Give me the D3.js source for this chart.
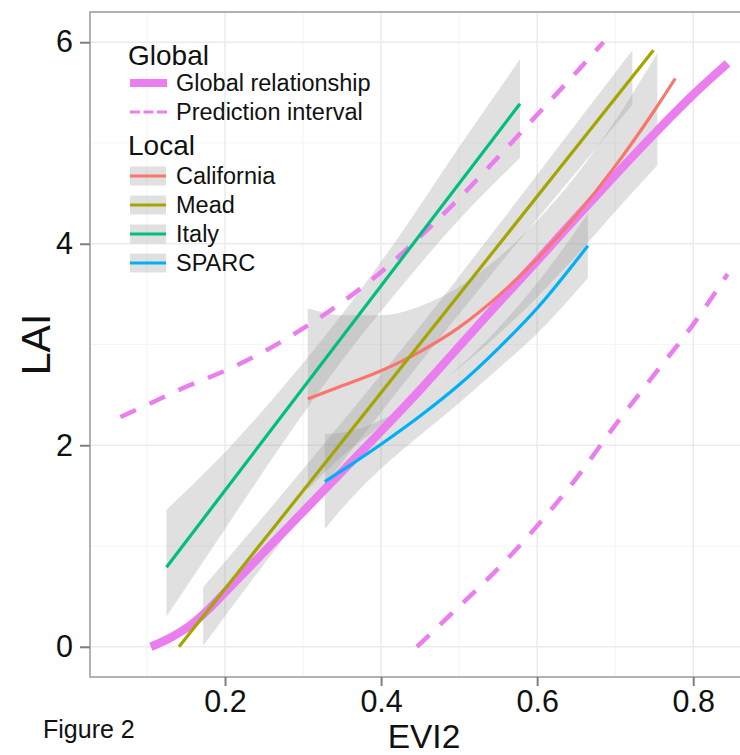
<!DOCTYPE html>
<html>
<head>
<meta charset="utf-8">
<script src="https://cdn.jsdelivr.net/npm/d3@7"></script>
<style>
body { margin: 0; background: #fff; }
svg text { font-family: "Liberation Sans", Arial, sans-serif; fill: #111; }
</style>
</head>
<body>
<svg id="chart" width="740" height="755"></svg>
<script>
// ticks
let xTicks = [0.2, 0.4, 0.6, 0.8];
let xMinor = [0.1, 0.3, 0.5, 0.7];
let yTicks = [0, 2, 4, 6];
let yMinor = [1, 3, 5];

// global fit and its prediction interval
let globalEvi = [0.105, 0.13, 0.155, 0.18, 0.2, 0.25, 0.3, 0.35, 0.4, 0.45, 0.5, 0.55, 0.6, 0.65, 0.7, 0.75, 0.8, 0.844];
let globalLai = [0, 0.09, 0.21, 0.38, 0.54, 0.94, 1.34, 1.74, 2.14, 2.55, 2.98, 3.41, 3.83, 4.26, 4.68, 5.09, 5.48, 5.79];
let upperEvi = [0.066, 0.1, 0.15, 0.2, 0.25, 0.3, 0.35, 0.4, 0.45, 0.5, 0.55, 0.6, 0.65, 0.685];
let upperLai = [2.28, 2.40, 2.58, 2.74, 2.93, 3.16, 3.42, 3.72, 4.07, 4.45, 4.86, 5.28, 5.70, 6.0];
let lowerEvi = [0.446, 0.5, 0.553, 0.6, 0.65, 0.7, 0.75, 0.8, 0.844];
let lowerLai = [0, 0.4, 0.8, 1.2, 1.67, 2.2, 2.7, 3.2, 3.7];

// local fits
let sites = ['California', 'Mead', 'Italy', 'SPARC'];

let californiaEvi = [0.306, 0.35, 0.4, 0.45, 0.5, 0.55, 0.6, 0.65, 0.7, 0.75, 0.777];
let californiaLai = [2.46, 2.59, 2.74, 2.93, 3.17, 3.48, 3.85, 4.28, 4.77, 5.32, 5.64];
let californiaBandEvi = [0.306, 0.35, 0.4, 0.45, 0.5, 0.55, 0.6, 0.65, 0.7, 0.754];
let californiaBandLo = [1.56, 1.89, 2.19, 2.48, 2.77, 3.10, 3.47, 3.88, 4.32, 4.78];
let californiaBandHi = [3.36, 3.29, 3.29, 3.38, 3.57, 3.86, 4.23, 4.68, 5.22, 5.89];

let meadEvi = [0.141, 0.749];
let meadLai = [0, 5.92];
let meadBandEvi = [0.172, 0.25, 0.35, 0.45, 0.55, 0.65, 0.722];
let meadBandLo = [0.01, 0.82, 1.83, 2.82, 3.78, 4.71, 5.38];
let meadBandHi = [0.59, 1.30, 2.23, 3.18, 4.18, 5.19, 5.92];

let italyEvi = [0.125, 0.578];
let italyLai = [0.79, 5.39];
let italyBandEvi = [0.125, 0.2, 0.28, 0.35, 0.42, 0.5, 0.578];
let italyBandLo = [0.30, 1.17, 2.09, 2.84, 3.52, 4.24, 4.85];
let italyBandHi = [1.36, 1.93, 2.63, 3.30, 4.04, 4.96, 5.83];

let sparcEvi = [0.328, 0.36, 0.4, 0.45, 0.5, 0.55, 0.6, 0.665];
let sparcLai = [1.64, 1.80, 2.01, 2.29, 2.60, 2.96, 3.36, 3.98];
let sparcBandEvi = [0.328, 0.36, 0.4, 0.45, 0.5, 0.55, 0.6, 0.665];
let sparcBandLo = [1.17, 1.46, 1.77, 2.10, 2.42, 2.76, 3.11, 3.66];
let sparcBandHi = [2.11, 2.14, 2.25, 2.48, 2.78, 3.16, 3.61, 4.30];

let localFits = [
    {name: 'California', line: d3.zip(californiaEvi, californiaLai), band: d3.zip(californiaBandEvi, californiaBandLo, californiaBandHi)},
    {name: 'Mead', line: d3.zip(meadEvi, meadLai), band: d3.zip(meadBandEvi, meadBandLo, meadBandHi)},
    {name: 'Italy', line: d3.zip(italyEvi, italyLai), band: d3.zip(italyBandEvi, italyBandLo, italyBandHi)},
    {name: 'SPARC', line: d3.zip(sparcEvi, sparcLai), band: d3.zip(sparcBandEvi, sparcBandLo, sparcBandHi)},
];

let color = d3.scaleOrdinal(sites, ['#F8766D', '#A3A500', '#00BF7D', '#00B0F6']);
let globalColor = '#ea7eef';

let svg = d3.select('#chart');
let pLeft = 90, pRight = 758, pTop = 12, pBottom = 677;

let x = d3.scaleLinear().domain([0.027, 0.883]).range([pLeft, pRight]);
let y = d3.scaleLinear().domain([-0.3, 6.3]).range([pBottom, pTop]);

svg.append('rect').attr('width', 740).attr('height', 755).attr('fill', '#fff');

svg.append('clipPath').attr('id', 'panel')
    .append('rect').attr('x', pLeft).attr('y', pTop)
    .attr('width', pRight - pLeft).attr('height', pBottom - pTop);

let grid = svg.append('g').attr('clip-path', 'url(#panel)');
grid.selectAll('.vminor').data(xMinor).enter().append('line')
    .attr('x1', d => x(d)).attr('x2', d => x(d)).attr('y1', pTop).attr('y2', pBottom)
    .attr('stroke', '#f5f5f5').attr('stroke-width', 1.2);
grid.selectAll('.hminor').data(yMinor).enter().append('line')
    .attr('y1', d => y(d)).attr('y2', d => y(d)).attr('x1', pLeft).attr('x2', pRight)
    .attr('stroke', '#f5f5f5').attr('stroke-width', 1.2);
grid.selectAll('.vmajor').data(xTicks).enter().append('line')
    .attr('x1', d => x(d)).attr('x2', d => x(d)).attr('y1', pTop).attr('y2', pBottom)
    .attr('stroke', '#ebebeb').attr('stroke-width', 1.5);
grid.selectAll('.hmajor').data(yTicks).enter().append('line')
    .attr('y1', d => y(d)).attr('y2', d => y(d)).attr('x1', pLeft).attr('x2', pRight)
    .attr('stroke', '#ebebeb').attr('stroke-width', 1.5);

let line = d3.line().x(d => x(d[0])).y(d => y(d[1])).curve(d3.curveMonotoneX);
let area = d3.area().x(d => x(d[0])).y0(d => y(d[1])).y1(d => y(d[2])).curve(d3.curveMonotoneX);

let plot = svg.append('g').attr('clip-path', 'url(#panel)');

plot.selectAll('.band').data(localFits).enter().append('path')
    .attr('d', d => area(d.band))
    .attr('fill', '#999').attr('fill-opacity', 0.3);

[d3.zip(upperEvi, upperLai), d3.zip(lowerEvi, lowerLai)].forEach(pts => {
    plot.append('path').attr('d', line(pts))
        .attr('fill', 'none').attr('stroke', globalColor)
        .attr('stroke-width', 4.5).attr('stroke-dasharray', '17,15');
});

plot.append('path').attr('d', line(d3.zip(globalEvi, globalLai)))
    .attr('fill', 'none').attr('stroke', globalColor).attr('stroke-width', 8.5);

plot.selectAll('.fit').data(localFits).enter().append('path')
    .attr('d', d => line(d.line))
    .attr('fill', 'none').attr('stroke', d => color(d.name)).attr('stroke-width', 3.2);

svg.append('rect').attr('x', pLeft).attr('y', pTop)
    .attr('width', pRight - pLeft).attr('height', pBottom - pTop)
    .attr('fill', 'none').attr('stroke', '#999').attr('stroke-width', 1.5);

let yAxis = svg.append('g').attr('transform', `translate(${pLeft},0)`)
    .call(d3.axisLeft(y).tickValues(yTicks).tickSize(10).tickPadding(7).tickFormat(d3.format('d')));
let xAxis = svg.append('g').attr('transform', `translate(0,${pBottom})`)
    .call(d3.axisBottom(x).tickValues(xTicks).tickSize(9).tickPadding(4).tickFormat(d3.format('.1f')));
[xAxis, yAxis].forEach(a => {
    a.attr('font-family', null).attr('font-size', null);
    a.select('.domain').remove();
    a.selectAll('.tick line').attr('stroke', '#7f7f7f').attr('stroke-width', 2);
    a.selectAll('.tick text').attr('font-size', 30.5).attr('fill', '#111');
});

svg.append('text').attr('x', (pLeft + pRight) / 2).attr('y', 748)
    .attr('text-anchor', 'middle').attr('font-size', 33.5).text('EVI2');
svg.append('text').attr('transform', `translate(50,${(pTop + pBottom) / 2}) rotate(-90)`)
    .attr('text-anchor', 'middle').attr('font-size', 41).text('LAI');
svg.append('text').attr('x', 43).attr('y', 738).attr('font-size', 25).text('Figure 2');

// legend
let legend = svg.append('g');
legend.append('text').attr('x', 128).attr('y', 65).attr('font-size', 28).text('Global');
legend.append('line').attr('x1', 130).attr('x2', 167).attr('y1', 83).attr('y2', 83)
    .attr('stroke', globalColor).attr('stroke-width', 8);
legend.append('text').attr('x', 176).attr('y', 91).attr('font-size', 23.5).text('Global relationship');
legend.append('line').attr('x1', 130).attr('x2', 167).attr('y1', 112).attr('y2', 112)
    .attr('stroke', globalColor).attr('stroke-width', 3).attr('stroke-dasharray', '10,3.5');
legend.append('text').attr('x', 176).attr('y', 120).attr('font-size', 23.5).text('Prediction interval');
legend.append('text').attr('x', 128).attr('y', 155).attr('font-size', 28).text('Local');

let items = legend.selectAll('.item').data(sites).enter().append('g')
    .attr('transform', (d, i) => `translate(0,${176 + i * 29})`);
items.append('rect').attr('x', 130).attr('y', -9.5).attr('width', 36).attr('height', 19)
    .attr('fill', '#999').attr('fill-opacity', 0.3);
items.append('line').attr('x1', 130).attr('x2', 166).attr('y1', 0).attr('y2', 0)
    .attr('stroke', d => color(d)).attr('stroke-width', 3.2);
items.append('text').attr('x', 176).attr('y', 8).attr('font-size', 23.5).text(d => d);
</script>
</body>
</html>
